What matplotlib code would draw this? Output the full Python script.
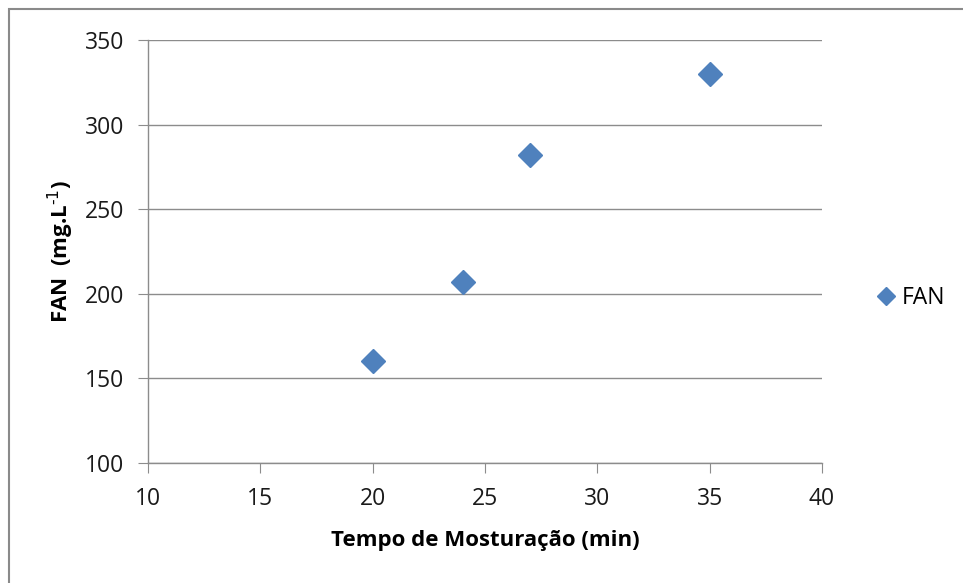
import matplotlib
matplotlib.use("Agg")
import matplotlib.pyplot as plt
from matplotlib.patches import Rectangle

plt.rcParams['font.family'] = ['Open Sans', 'DejaVu Sans']

tempo = [20, 24, 27, 35]
fan = [160, 207, 282, 330]
xticks = [10, 15, 20, 25, 30, 35, 40]
yticks = [100, 150, 200, 250, 300, 350]

W, H = 963, 583
fig = plt.figure(figsize=(W / 100, H / 100), dpi=100)
fig.patch.set_facecolor('white')

# outer chart border
fig.patches.append(Rectangle((9 / W, -0.05), 1.2, (H - 9) / H + 0.05,
                             transform=fig.transFigure, fill=False,
                             edgecolor='#8a8a8a', linewidth=1.5))

ax = fig.add_axes([148 / W, (H - 463) / H, (822 - 148) / W, (463 - 40) / H])
ax.set_xlim(10, 40)
ax.set_ylim(100, 350)
ax.set_xticks(xticks)
ax.set_yticks(yticks)
ax.grid(axis='y', color='#8c8c8c', linewidth=1)
ax.set_axisbelow(True)
for s in ['top', 'right']:
    ax.spines[s].set_visible(False)
for s in ['left', 'bottom']:
    ax.spines[s].set_color('#8c8c8c')
    ax.spines[s].set_linewidth(1)
ax.tick_params(axis='both', direction='out', length=7, color='#8c8c8c',
               labelsize=16.5, labelcolor='#1a1a1a', pad=10)

ax.plot(tempo, fan, linestyle='none', marker='D', markersize=12.5,
        color='#4f81bd', label='FAN')

ax.set_xlabel('Tempo de Mosturação (min)', fontsize=16, fontweight='bold', color='black')
ax.set_ylabel(r'FAN  (mg.L$^{\text{-}1}$)', fontsize=16, fontweight='bold', color='black')
ax.xaxis.set_label_coords(0.5, -0.158)
ax.yaxis.set_label_coords(-0.107, 0.5)

leg = ax.legend(loc='center left', bbox_to_anchor=(1.051, 0.39), frameon=False,
                fontsize=16.5, handlelength=0.8, handletextpad=0.3, markerscale=0.75)

fig.savefig('out.png', dpi=100)
